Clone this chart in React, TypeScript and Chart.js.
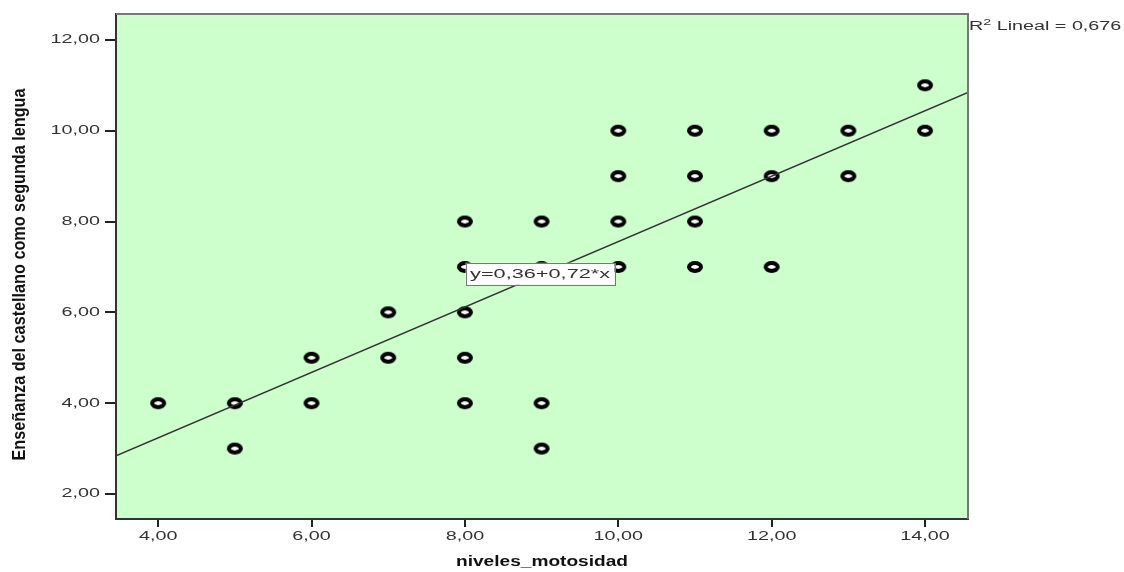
import React, { useEffect, useRef } from "react";
import { Chart, registerables } from "chart.js";

Chart.register(...registerables);

// Data
const xValues = [4, 5, 5, 6, 6, 7, 7, 8, 8, 8, 8, 8, 9, 9, 9, 9, 10, 10, 10, 10, 11, 11, 11, 11, 12, 12, 12, 13, 13, 14, 14];
const yValues = [4, 4, 3, 5, 4, 6, 5, 8, 7, 6, 5, 4, 8, 7, 4, 3, 10, 9, 8, 7, 10, 9, 8, 7, 10, 9, 7, 10, 9, 11, 10];

const xTicks = [4, 6, 8, 10, 12, 14];
const yTicks = [2, 4, 6, 8, 10, 12];
const xRange = [3.45, 14.56];
const yRange = [1.45, 12.57];

const intercept = 0.36;
const slope = 0.72;
const rSquared = "0,676";
const equationLabel = "y=0,36+0,72*x";
const equationAnchor = { x: 8.98, y: 6.85 };

const xTitle = "niveles_motosidad";
const yTitle = "Enseñanza del castellano como segunda lengua";

const fmt = (v: number) => v.toFixed(2).replace(".", ",");
const FONT = '"Liberation Sans", Arial, sans-serif';
const SX = 1.58; // horizontal stretch of the reference's text

function makeRing(): HTMLCanvasElement {
  const c = document.createElement("canvas");
  c.width = 20;
  c.height = 14;
  const g = c.getContext("2d")!;
  g.beginPath();
  g.ellipse(10, 7, 6.0, 3.9, 0, 0, Math.PI * 2);
  g.fillStyle = "#f4fff4";
  g.fill();
  g.lineWidth = 4;
  g.strokeStyle = "#000";
  g.stroke();
  return c;
}

function stretchedText(ctx: CanvasRenderingContext2D, text: string, x: number, y: number, align: "left" | "center" | "right", sx: number) {
  ctx.save();
  ctx.translate(x, y);
  ctx.scale(sx, 1);
  ctx.textAlign = align;
  ctx.fillText(text, 0, 0);
  ctx.restore();
}

export default function App() {
  const ref = useRef<HTMLCanvasElement | null>(null);

  useEffect(() => {
    document.body.style.margin = "0";
    const canvas = ref.current;
    if (!canvas) return;

    const ring = makeRing();
    const points = xValues.map((x, i) => ({ x, y: yValues[i] }));
    const linePts = [
      { x: xRange[0], y: intercept + slope * xRange[0] },
      { x: xRange[1], y: intercept + slope * xRange[1] },
    ];

    const decor = {
      id: "decor",
      beforeDraw(chart: any) {
        const { ctx, chartArea: a } = chart;
        ctx.save();
        ctx.fillStyle = "#ccffcc";
        ctx.fillRect(a.left, a.top, a.right - a.left, a.bottom - a.top);
        ctx.restore();
      },
      afterDatasetsDraw(chart: any) {
        const { ctx, chartArea: a, scales } = chart;
        ctx.save();
        // frame top/right
        ctx.strokeStyle = "#777";
        ctx.lineWidth = 2;
        ctx.beginPath();
        ctx.moveTo(a.left, a.top);
        ctx.lineTo(a.right, a.top);
        ctx.lineTo(a.right, a.bottom);
        ctx.stroke();

        // tick labels
        ctx.fillStyle = "#333";
        ctx.font = `12.5px ${FONT}`;
        ctx.textBaseline = "middle";
        for (const v of yTicks) {
          stretchedText(ctx, fmt(v), 100, scales.y.getPixelForValue(v), "right", SX);
        }
        for (const v of xTicks) {
          stretchedText(ctx, fmt(v), scales.x.getPixelForValue(v), 537, "center", SX);
        }

        // equation label box
        const cx = scales.x.getPixelForValue(equationAnchor.x);
        const cy = scales.y.getPixelForValue(equationAnchor.y);
        ctx.font = `12.5px ${FONT}`;
        const tw0 = ctx.measureText(equationLabel).width;
        const esx = 140 / tw0;
        const w = 149;
        const h = 22;
        ctx.fillStyle = "#ffffff";
        ctx.fillRect(cx - w / 2, cy - h / 2, w, h);
        ctx.strokeStyle = "#777";
        ctx.lineWidth = 1;
        ctx.strokeRect(Math.round(cx - w / 2) + 0.5, Math.round(cy - h / 2) + 0.5, w, h);
        ctx.fillStyle = "#333";
        stretchedText(ctx, equationLabel, cx, cy + 1, "center", esx);

        // R^2 label
        const rx = a.right + 1;
        const ry = a.top + 13;
        ctx.fillStyle = "#333";
        ctx.textBaseline = "middle";
        ctx.font = `12.5px ${FONT}`;
        stretchedText(ctx, "R", rx, ry, "left", SX);
        let off = ctx.measureText("R").width * SX;
        ctx.font = `9px ${FONT}`;
        stretchedText(ctx, "2", rx + off, ry - 4, "left", SX);
        off += ctx.measureText("2").width * SX;
        ctx.font = `12.5px ${FONT}`;
        stretchedText(ctx, " Lineal = " + rSquared, rx + off, ry, "left", SX);

        // axis titles
        ctx.fillStyle = "#111";
        ctx.font = `bold 15px ${FONT}`;
        const xw = ctx.measureText(xTitle).width;
        stretchedText(ctx, xTitle, (a.left + a.right) / 2, 562, "center", 172 / xw);

        ctx.translate(20, (a.top + a.bottom) / 2 + 8);
        ctx.rotate(-Math.PI / 2);
        ctx.font = `bold 13px ${FONT}`;
        const tw = ctx.measureText(yTitle).width;
        ctx.scale(372 / tw, 1.45);
        ctx.textAlign = "center";
        ctx.textBaseline = "middle";
        ctx.fillText(yTitle, 0, 0);
        ctx.restore();
      },
    };

    const chart = new Chart(canvas, {
      type: "scatter",
      data: {
        datasets: [
          {
            label: "regresión",
            data: linePts,
            showLine: true,
            borderColor: "#333",
            borderWidth: 1.5,
            pointRadius: 0,
            order: 0,
          } as any,
          {
            label: "datos",
            data: points,
            pointStyle: ring,
            pointRadius: 6,
            order: 1,
          } as any,
        ],
      },
      options: {
        animation: false,
        responsive: false,
        layout: { padding: { top: 14, right: 156, left: 0, bottom: 0 } },
        plugins: { legend: { display: false }, tooltip: { enabled: false } },
        scales: {
          x: {
            type: "linear",
            min: xRange[0],
            max: xRange[1],
            afterBuildTicks: (s: any) => {
              s.ticks = xTicks.map((v) => ({ value: v }));
            },
            afterFit: (s: any) => {
              s.height = 53;
            },
            grid: { drawOnChartArea: false, drawTicks: true, tickLength: 8, color: "#222", lineWidth: 2 },
            border: { display: true, color: "#333", width: 2 },
            ticks: { display: false },
          },
          y: {
            type: "linear",
            min: yRange[0],
            max: yRange[1],
            afterBuildTicks: (s: any) => {
              s.ticks = yTicks.map((v) => ({ value: v }));
            },
            afterFit: (s: any) => {
              s.width = 116;
            },
            grid: { drawOnChartArea: false, drawTicks: true, tickLength: 11, color: "#222", lineWidth: 2 },
            border: { display: true, color: "#333", width: 2 },
            ticks: { display: false },
          },
        },
      },
      plugins: [decor],
    });

    return () => chart.destroy();
  }, []);

  return (
    <div style={{ position: "fixed", left: 0, top: 0, width: 1124, height: 572, background: "#fff" }}>
      <canvas ref={ref} width={1124} height={572} />
    </div>
  );
}
